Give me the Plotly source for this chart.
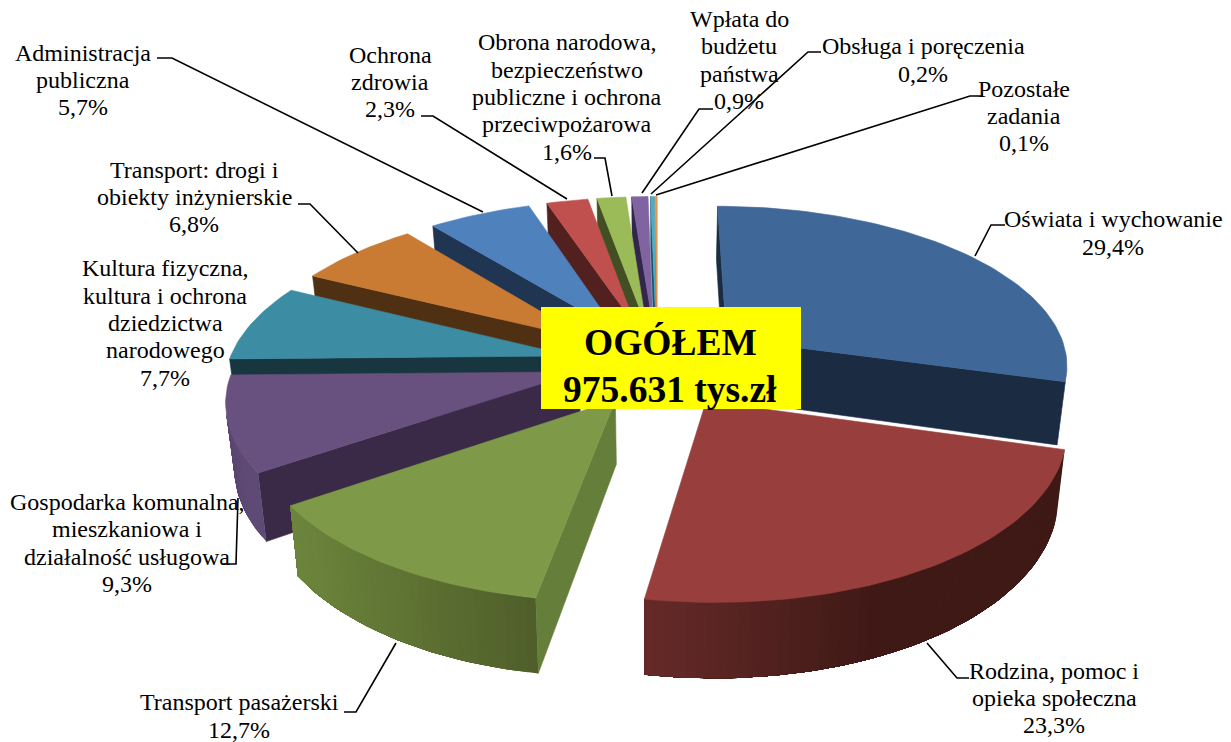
import math
import plotly.graph_objects as go

# ---- data
names = ["Oświata i wychowanie", "Rodzina, pomoc i<br>opieka społeczna", "Transport pasażerski",
         "Gospodarka komunalna,<br>mieszkaniowa i<br>działalność usługowa",
         "Kultura fizyczna,<br>kultura i ochrona<br>dziedzictwa<br>narodowego",
         "Transport: drogi i<br>obiekty inżynierskie", "Administracja<br>publiczna", "Ochrona<br>zdrowia",
         "Obrona narodowa,<br>bezpieczeństwo<br>publiczne i ochrona<br>przeciwpożarowa",
         "Wpłata do<br>budżetu<br>państwa", "Obsługa i poręczenia", "Pozostałe<br>zadania"]
values = [29.4, 23.3, 12.7, 9.3, 7.7, 6.8, 5.7, 2.3, 1.6, 0.9, 0.2, 0.1]
top_colors = ["#3f6797", "#983f3e", "#7e9a48", "#69517f", "#3c8da3", "#c97a33", "#4f81bd", "#c0504d",
              "#9bbb59", "#8064a2", "#4bacc6", "#f79646"]
face_colors = ["#1a2b42", "#4f1f1f", "#657f3a", "#3a2a47", "#17363f", "#503013", "#1f3551", "#532020",
               "#414f22", "#32274a", "#1f5563", "#8a4f1e"]
wall_left = ["#2a4566", "#652a28", "#6c853c", "#5a4570", "#1e4a56", "#6a4018", "#2a466c", "#6a2a28",
             "#55692e", "#44355a", "#2a6070", "#a05f20"]
wall_right = ["#1c2f49", "#3f1916", "#505f2a", "#5f4a75", "#1e4a56", "#6a4018", "#2a466c", "#6a2a28",
              "#55692e", "#44355a", "#2a6070", "#a05f20"]
wall_rate = [1.8, 1.8, 1.0, 1.8, 1.8, 1.8, 1.8, 1.8, 1.8, 1.8, 1.8, 1.8]
nudge = [(0, -2), (0, 0), (8, -1), (8, -6), (0, 0), (0, 0), (0, 0), (0, 0), (0, 0), (0, 0), (0, 0), (0, 0)]

# ---- layout of the text and leaders (pixel space)
label_pos = [(1113, 233), (1054, 698), (239, 716), (127, 543), (165, 323), (194, 197), (83, 80), (390, 82),
             (567, 97), (739, 60), (923, 60), (1024, 116)]
leaders = [[(1005, 225), (991, 225), (975, 256)],
           [(969, 678), (957, 678), (927, 643)],
           [(344, 712), (356, 712), (396, 643)],
           [(223, 564), (236, 564), (238, 498)],
           [],
           [(298, 204), (310, 204), (358, 253)],
           [(157, 58), (172, 58), (483, 212)],
           [(421, 116), (433, 116), (567, 199)],
           [(594, 158), (605, 158), (612, 196)],
           [(713, 109), (699, 109), (642, 193)],
           [(821, 52), (808, 52), (651, 194)],
           [(983, 96), (970, 96), (656, 195)]]

# ---- projection parameters
CX, CY, RX, RY, K, THICK, CONV, EXPLODE = 657, 365, 343, 159, 0.15, 62, 0.02, 0.26
FONT = "Liberation Serif"
LINE = 27.4


def proj(x, y, z, shift=(0, 0)):
    p = 1 / (1 + K * y)
    sx = CX + RX * x * p * (1 - CONV * (1 - z))
    sy = CY - RY * y * p + THICK * p * (1 - z)
    return sx + shift[0], sy + shift[1]


def mix(a, b, t):
    ca = [int(a[i:i + 2], 16) for i in (1, 3, 5)]
    cb = [int(b[i:i + 2], 16) for i in (1, 3, 5)]
    return "#%02x%02x%02x" % tuple(round(u + (v - u) * t) for u, v in zip(ca, cb))


def area(pts):
    return sum(pts[i][0] * pts[(i + 1) % len(pts)][1] - pts[(i + 1) % len(pts)][0] * pts[i][1]
               for i in range(len(pts)))


fig = go.Figure()


def poly(pts, color, width=0.6):
    fig.add_trace(go.Scatter(x=[p[0] for p in pts] + [pts[0][0]], y=[p[1] for p in pts] + [pts[0][1]],
                             mode="lines", fill="toself", fillcolor=color,
                             line=dict(color=color, width=width), hoverinfo="skip", showlegend=False))


total = sum(values)
slices = []
start = 0.0
for i, v in enumerate(values):
    a0, a1 = start, start + v / total * 2 * math.pi
    start = a1
    slices.append((i, a0, a1))
slices.sort(key=lambda s: -math.cos((s[1] + s[2]) / 2))

for i, a0, a1 in slices:
    mid = (a0 + a1) / 2
    s = nudge[i]
    ox, oy = EXPLODE * math.sin(mid), EXPLODE * math.cos(mid)
    n = max(2, int((a1 - a0) / 0.025))
    rim = [(ox + math.sin(a0 + (a1 - a0) * j / n), oy + math.cos(a0 + (a1 - a0) * j / n)) for j in range(n + 1)]
    # radial faces, only those facing the viewer
    for edge in (rim[0], rim[-1]):
        face = [proj(ox, oy, 1, s), proj(edge[0], edge[1], 1, s), proj(edge[0], edge[1], 0, s), proj(ox, oy, 0, s)]
        sign = area(face) if edge is rim[-1] else -area(face)
        if sign > 0:
            poly(face, face_colors[i])
    # outer wall: overlapping strips, so that no seams show between them
    visible = [j for j in range(n) if area([proj(*rim[j], 1), proj(*rim[j + 1], 1),
                                            proj(*rim[j + 1], 0), proj(*rim[j], 0)]) < 0]
    if visible:
        last = visible[-1] + 1
        xs = [proj(*rim[j], 1)[0] for j in visible]
        x_lo, x_hi = min(xs), max(xs)
        for j in visible:
            strip = [proj(*rim[m], 1, s) for m in range(j, last + 1)] + \
                    [proj(*rim[m], 0, s) for m in range(last, j - 1, -1)]
            t = (proj(*rim[j], 1)[0] - x_lo) / max(1, x_hi - x_lo)
            poly(strip, mix(wall_left[i], wall_right[i], min(1, t * wall_rate[i])), 0)
    # top
    poly([proj(ox, oy, 1, s)] + [proj(x, y, 1, s) for x, y in rim], top_colors[i])

# ---- leaders
for path in leaders:
    if path:
        fig.add_trace(go.Scatter(x=[p[0] for p in path], y=[p[1] for p in path], mode="lines",
                                 line=dict(color="black", width=1.6), hoverinfo="skip", showlegend=False))

# ---- labels (one annotation per line for the tight line spacing of the original)
annotations = []
for name, v, (lx, ly) in zip(names, values, label_pos):
    lines = name.split("<br>") + [f"{str(v).replace('.', ',')}%"]
    for j, line in enumerate(lines):
        annotations.append(dict(x=lx, y=ly + (j - (len(lines) - 1) / 2) * LINE, xref="x", yref="y",
                                showarrow=False, text=line,
                                font=dict(family=FONT, size=24, color="black")))
annotations.append(dict(x=670, y=342, xref="x", yref="y", showarrow=False, text="<b>OGÓŁEM</b>",
                        font=dict(family=FONT, size=37.5, color="black")))
annotations.append(dict(x=670, y=389, xref="x", yref="y", showarrow=False, text="<b>975.631 tys.zł</b>",
                        font=dict(family=FONT, size=37.5, color="black")))

fig.update_layout(
    width=1231, height=742, margin=dict(l=0, r=0, t=0, b=0), autosize=False,
    paper_bgcolor="white", plot_bgcolor="white", showlegend=False,
    xaxis=dict(range=[0, 1231], visible=False, fixedrange=True),
    yaxis=dict(range=[742, 0], visible=False, fixedrange=True),
    annotations=annotations,
    shapes=[dict(type="rect", xref="x", yref="y", x0=541, x1=801, y0=307, y1=409,
                 fillcolor="#ffff00", line=dict(width=0), layer="above")],
)
fig.write_html("out.html", config={"displayModeBar": False},
               post_script="document.body.style.margin='0';document.body.style.overflow='hidden';")
